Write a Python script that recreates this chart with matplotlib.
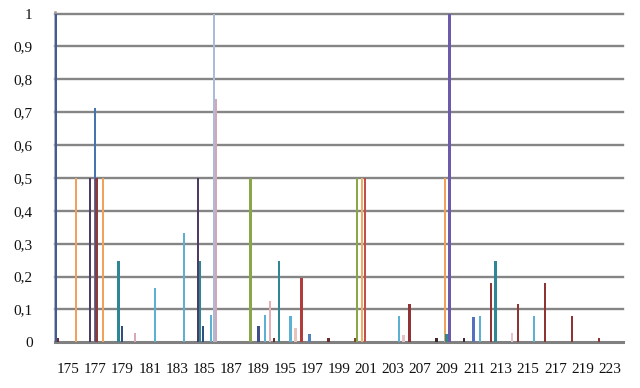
import matplotlib
matplotlib.use("Agg")
import matplotlib.pyplot as plt

# ------------------------------------------------------------------------
categories = ["175", "177", "179", "181", "183", "185", "187", "189", "195", "197",
              "199", "201", "203", "207", "209", "211", "213", "215", "217", "219", "223"]

# one entry per bar: category label, series slot inside the cluster, value
bar_cat = ["175", "175", "175",
           "177", "177", "177", "177",
           "179", "179", "179",
           "181",
           "183",
           "185", "185", "185", "185", "185", "185",
           "189", "189", "189", "189",
           "195", "195", "195", "195",
           "197", "197",
           "199",
           "201", "201", "201", "201",
           "203", "203",
           "207",
           "209", "209", "209", "209",
           "211", "211", "211",
           "213", "213", "213",
           "215", "215",
           "217",
           "219",
           "223"]
bar_slot = [0, 1, 12,
            4, 7, 8, 12,
            5, 7, 15,
            11,
            12,
            4, 5, 7, 12, 14, 15,
            3, 8, 12, 15,
            1, 4, 11, 14,
            1, 6,
            1,
            1, 2, 5, 7,
            11, 14,
            1,
            1, 6, 7, 9,
            1, 7, 11,
            1, 4, 14,
            1, 11,
            1,
            1,
            1]
bar_value = [1.0, 0.014, 0.5,
             0.5, 0.712, 0.5, 0.5,
             0.247, 0.05, 0.027,
             0.165,
             0.333,
             0.5, 0.248, 0.05, 0.083, 1.0, 0.739,
             0.5, 0.05, 0.083, 0.126,
             0.014, 0.246, 0.081, 0.044,
             0.196, 0.024,
             0.014,
             0.014, 0.5, 0.5, 0.5,
             0.081, 0.022,
             0.115,
             0.014, 0.5, 0.024, 1.0,
             0.014, 0.076, 0.081,
             0.18, 0.246, 0.028,
             0.115, 0.081,
             0.18,
             0.081,
             0.014]
bar_color = ["#3f5d9d", "#6b2e2e", "#eea25c",
             "#4d3b62", "#4674b0", "#8e3a3a", "#eea25c",
             "#2f8796", "#2f4f80", "#d8a8b6",
             "#5cb0d2",
             "#5cb0d2",
             "#4d3b62", "#2f8796", "#2f4f80", "#5cb0d2", "#aabdd6", "#d4a6b6",
             "#88a64a", "#3e4f8a", "#5cb0d2", "#e3b0b8",
             "#6b2e2e", "#2f8796", "#5cb0d2", "#e6c2bc",
             "#b03c3c", "#4f81bd",
             "#6b2e2e",
             "#7a4a2a", "#88a64a", "#eeb060", "#c0504d",
             "#5cb0d2", "#e6c2c8",
             "#8e3434",
             "#3a2a2a", "#eea25c", "#2f8796", "#6c5bab",
             "#3a2a3a", "#5570c0", "#5cb0d2",
             "#8e3434", "#2f8796", "#e6c2c8",
             "#8e3434", "#5cb0d2",
             "#8e3434",
             "#8e3434",
             "#8e3434"]

y_ticks = [0, 0.1, 0.2, 0.3, 0.4, 0.5, 0.6, 0.7, 0.8, 0.9, 1.0]
y_labels = ["0", "0,1", "0,2", "0,3", "0,4", "0,5", "0,6", "0,7", "0,8", "0,9", "1"]
# ------------------------------------------------------------------------

N_SLOTS = 16
SLOT_W = 0.06

fig = plt.figure(figsize=(6.4, 3.88), dpi=100)
ax = fig.add_axes([0.0859, 0.1178, 0.8875, 0.8505])

cat_idx = {c: i for i, c in enumerate(categories)}
xs = [cat_idx[c] + (s - (N_SLOTS - 1) / 2) * SLOT_W for c, s in zip(bar_cat, bar_slot)]
ax.bar(xs, bar_value, width=0.085, color=bar_color, linewidth=0, zorder=3)

ax.set_xlim(-0.5, len(categories) - 0.5)
ax.set_ylim(0, 1.004)
ax.set_xticks(range(len(categories)))
ax.set_xticklabels(categories)
ax.set_yticks(y_ticks)
ax.set_yticklabels(y_labels)

for y in y_ticks[1:]:
    ax.axhline(y, color="#858585", linewidth=1.7, zorder=1, clip_on=False)

for side in ["top", "right"]:
    ax.spines[side].set_visible(False)
ax.spines["left"].set_color("#9a9a9a")
ax.spines["left"].set_linewidth(1.8)
ax.spines["bottom"].set_color("#808080")
ax.spines["bottom"].set_linewidth(2.2)

ax.tick_params(axis="both", length=0)
ax.tick_params(axis="y", pad=16)
ax.tick_params(axis="x", pad=15)
for lbl in ax.get_xticklabels() + ax.get_yticklabels():
    lbl.set_fontfamily("Liberation Serif")
    lbl.set_fontsize(11)
    lbl.set_color("#111111")

fig.savefig("out.png", dpi=100)
